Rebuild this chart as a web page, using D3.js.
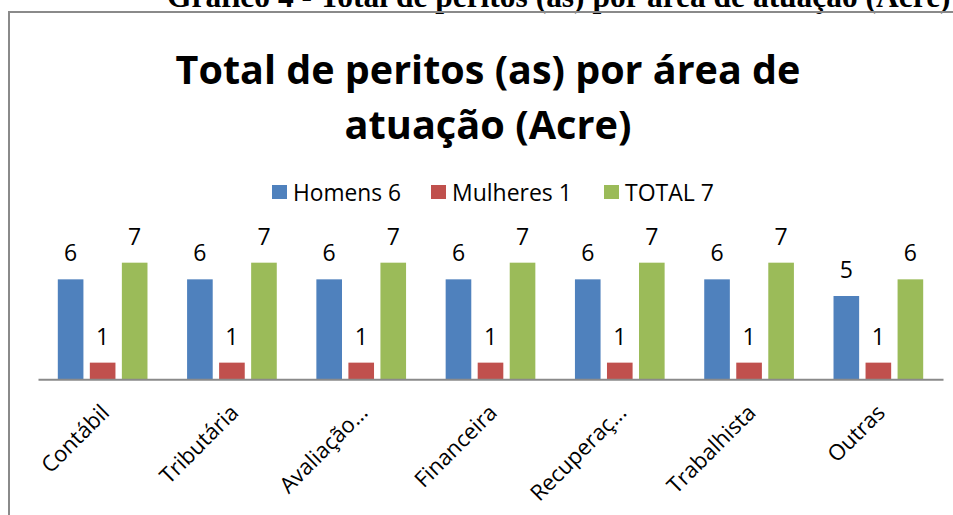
<!DOCTYPE html>
<html><head><meta charset="utf-8">
<script src="https://cdn.jsdelivr.net/npm/d3@7"></script>
<style>body{margin:0;background:#fff}svg{display:block}</style>
</head><body>
<svg id="c" width="953" height="515"></svg>
<script>
const categories = ["Contábil","Tributária","Avaliação...","Financeira","Recuperaç...","Trabalhista","Outras"];
const seriesNames = ["Homens 6","Mulheres 1","TOTAL 7"];
const homens = [6,6,6,6,6,6,5];
const mulheres = [1,1,1,1,1,1,1];
const total = [7,7,7,7,7,7,6];
const colors = ["#4F81BD","#C0504D","#9BBB59"];
const seriesValues = [homens, mulheres, total];

const svg = d3.select("#c");
const font = "'Open Sans', sans-serif";

function fitWidth(sel, w){
  const cur = sel.node().getComputedTextLength();
  const fs = parseFloat(sel.attr("font-size"));
  sel.attr("font-size", fs*w/cur);
}

// caption (cut off at top as in the reference)
const cap = svg.append("text").attr("x",167).attr("y",7).attr("font-family","'Liberation Serif', 'Times New Roman', serif")
  .attr("font-weight","bold").attr("font-size",26).attr("fill","#000")
  .text("Gráfico 4 - Total de peritos (as) por área de atuação (Acre)");
fitWidth(cap, 784);

// frame
svg.append("path").attr("d","M9,515 L9,12 L953,12").attr("fill","none").attr("stroke","#8a8a8a").attr("stroke-width",2);

// title
const t1 = svg.append("text").attr("text-anchor","middle").attr("x",488).attr("y",84).attr("font-family",font)
  .attr("font-weight","bold").attr("font-size",42).attr("fill","#000").text("Total de peritos (as) por área de");
fitWidth(t1, 625);
const t2 = svg.append("text").attr("text-anchor","middle").attr("x",488).attr("y",139).attr("font-family",font)
  .attr("font-weight","bold").attr("font-size",42).attr("fill","#000").text("atuação (Acre)");
fitWidth(t2, 287);

// legend
const legX = [272, 431, 604];
const legW = [108, 120, 89];
seriesNames.forEach((n,i)=>{
  svg.append("rect").attr("x",legX[i]).attr("y",185).attr("width",15).attr("height",14).attr("fill",colors[i]);
  const lt = svg.append("text").attr("x",legX[i]+21).attr("y",201).attr("font-family",font).attr("font-size",21).attr("fill","#000").text(n);
  fitWidth(lt, legW[i]);
});

const x0 = d3.scaleBand().domain(categories).range([38,943]).paddingInner(0).paddingOuter(0);
const x1 = d3.scaleBand().domain(d3.range(3)).range([19.8, x0.bandwidth()-19.8]).paddingInner(0.2);
const y = d3.scaleLinear().domain([0,8]).range([379.3, 379.3-8*16.66]);

const g = svg.append("g");
categories.forEach((c,ci)=>{
  seriesValues.forEach((vals,si)=>{
    const xx = x0(c)+x1(si);
    g.append("rect").attr("x",xx).attr("y",y(vals[ci])).attr("width",x1.bandwidth()).attr("height",y(0)-y(vals[ci])).attr("fill",colors[si]);
    g.append("text").attr("x",xx+x1.bandwidth()/2).attr("y",y(vals[ci])-18).attr("text-anchor","middle")
      .attr("font-family",font).attr("font-size",23).attr("fill","#000").text(vals[ci]);
  });
});

// axis
const ax = svg.append("g").attr("transform","translate(0,379.3)").call(d3.axisBottom(x0).tickSize(0).tickFormat(""));
ax.select(".domain").attr("stroke","#8a8a8a").attr("stroke-width",2);
categories.forEach(c=>{
  const cx = x0(c)+x0.bandwidth()/2+8;
  svg.append("text").attr("transform",`translate(${cx},414) rotate(-45)`).attr("text-anchor","end")
    .attr("font-family",font).attr("font-size",22).attr("fill","#000").text(c);
});
</script>
</body></html>
